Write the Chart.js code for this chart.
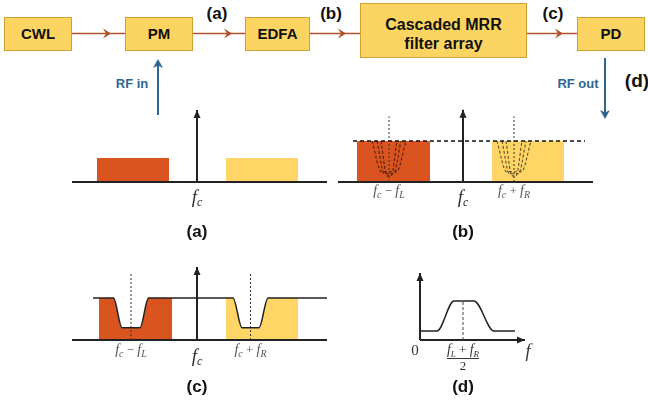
<!DOCTYPE html>
<html lang="en">
<head>
<meta charset="UTF-8">
<title>Cascaded MRR filter array - spectra</title>
<script src="https://cdn.jsdelivr.net/npm/chart.js"></script>
<style>
    * { margin: 0; padding: 0; box-sizing: border-box; }
    body { background: #fff; width: 648px; height: 407px; overflow: hidden; }
    .stage { position: relative; width: 648px; height: 407px; }
    .stage svg, .stage canvas { position: absolute; }
</style>
</head>
<body>
<div class="stage">
    <svg width="648" height="125" style="left:0;top:0">
        <g fill="#FCD462" stroke="#CFA032" stroke-width="1">
            <rect x="4.5" y="17.5" width="67" height="33"/>
            <rect x="125.5" y="17.5" width="67" height="33"/>
            <rect x="245.5" y="17.5" width="64" height="33"/>
            <rect x="360.5" y="3.5" width="166" height="54"/>
            <rect x="577.5" y="17.5" width="67" height="33"/>
        </g>
        <g font-family="'Liberation Sans', Arial, sans-serif" font-weight="bold" text-anchor="middle" fill="#111">
            <text x="38" y="39" font-size="15">CWL</text>
            <text x="159" y="39" font-size="15">PM</text>
            <text x="277.5" y="39" font-size="15">EDFA</text>
            <text x="443.5" y="30" font-size="16">Cascaded MRR</text>
            <text x="443.5" y="49" font-size="16">filter array</text>
            <text x="611" y="39" font-size="15">PD</text>
            <text x="217" y="19" font-size="17">(a)</text>
            <text x="331" y="19" font-size="17">(b)</text>
            <text x="553" y="19" font-size="17">(c)</text>
            <text x="637" y="87" font-size="19">(d)</text>
        </g>
        <g stroke="#B0532C" stroke-width="1.6">
            <line x1="72" y1="33.5" x2="125" y2="33.5"/>
            <line x1="193" y1="33.5" x2="245" y2="33.5"/>
            <line x1="310" y1="33.5" x2="360" y2="33.5"/>
            <line x1="527" y1="33.5" x2="577" y2="33.5"/>
        </g>
        <g fill="#B0532C">
            <path d="M103,28.5 L111,33.5 L103,38.5 L106,33.5 Z"/>
            <path d="M224,28.5 L232,33.5 L224,38.5 L227,33.5 Z"/>
            <path d="M338,28.5 L346,33.5 L338,38.5 L341,33.5 Z"/>
            <path d="M555,28.5 L563,33.5 L555,38.5 L558,33.5 Z"/>
        </g>
        <g stroke="#2F6690" stroke-width="2">
            <line x1="158" y1="115" x2="158" y2="63"/>
            <line x1="605" y1="58" x2="605" y2="114"/>
        </g>
        <g fill="#2F6690">
            <path d="M158,59 L153,68 L158,65.5 L163,68 Z"/>
            <path d="M605,119 L600,110 L605,112.5 L610,110 Z"/>
        </g>
        <g font-family="'Liberation Sans', Arial, sans-serif" font-weight="bold" font-size="13" fill="#2F6690" text-anchor="middle">
            <text x="132" y="88">RF in</text>
            <text x="578" y="88">RF out</text>
        </g>
    </svg>
    <canvas id="panel-a"></canvas>
    <canvas id="panel-b"></canvas>
    <canvas id="panel-c"></canvas>
    <canvas id="panel-d"></canvas>
</div>

<script>
    // Frequency axis of (a)-(c): offset from the carrier fc, arbitrary units.
    // Amplitude: 1 = level of the sidebands.

    // (a) after the phase modulator
    const aAxis = [-12.5, 13.0];
    const aLowerBand = [-10.0, -2.8];
    const aUpperBand = [2.9, 10.1];
    const aCarrier = 3.0;

    // (b) after the EDFA, with the tunable filter responses
    const bAxis = [-12.5, 13.0];
    const bLowerBand = [-10.6, -3.3];
    const bUpperBand = [2.9, 10.1];
    const bCarrier = 1.76;
    const bReference = [-11.0, 12.2];
    const bNotchCentres = [-7.4, 5.1];
    const bMarkerTop = 1.6;
    const bNotchOffsets = [
        [-1.7, -0.75, 0.75, 1.7],
        [-1.2, -0.45, 0.45, 1.2],
        [-0.8, -0.2, 0.2, 0.8]
    ];
    const bNotchLevels = [
        [1, 0.25, 0.25, 1],
        [1, 0.2, 0.2, 1],
        [1, 0.15, 0.15, 1]
    ];

    // (c) after the cascaded MRR filter array
    const cAxis = [-12.5, 13.0];
    const cCarrier = 1.74;
    const cResponseX = [-10.4, -8.35, -7.5, -5.7, -4.85, 3.6, 4.5, 6.2, 7.1, 13.0];
    const cResponseY = [1, 1, 0.29, 0.29, 1, 1, 0.29, 0.29, 1, 1];
    const cLowerBand = [-9.8, -2.5];
    const cUpperBand = [2.9, 10.1];
    const cNotchCentres = [-6.6, 5.35];
    const cMarkerTop = 1.62;

    // (d) RF response at the photodiode
    const dAxisX = 10.5;
    const dAxisY = 1.72;
    const dResponseX = [0, 1.7, 3.4, 5.4, 7.4, 9.5];
    const dResponseY = [0.23, 0.23, 1, 1, 0.23, 0.23];
    const dCentre = 4.3;

    // where each panel sits on the page (px) and how many px one unit is
    const geometry = {
        a: { left: 60, top: 100, width: 280, height: 150, x0: 197, y0: 182, sx: 10, sy: 24 },
        b: { left: 335, top: 100, width: 290, height: 150, x0: 463, y0: 182, sx: 10, sy: 41 },
        c: { left: 60, top: 255, width: 280, height: 150, x0: 197, y0: 340, sx: 10, sy: 42 },
        d: { left: 395, top: 255, width: 160, height: 150, x0: 420, y0: 340, sx: 10, sy: 39 }
    };

    const ink = '#222';
    const orange = '#D9541E';
    const yellow = '#FFD666';

    const pts = (xs, ys) => xs.map((x, i) => ({ x: x, y: ys[i] }));

    function line(data, color, width, extra) {
        return Object.assign({
            data: data, showLine: true, fill: false, pointRadius: 0,
            borderColor: color, borderWidth: width, order: 1
        }, extra || {});
    }

    function band(range, color) {
        return {
            data: [{ x: range[0], y: 1 }, { x: range[1], y: 1 }],
            showLine: true, fill: 'origin', pointRadius: 0,
            borderColor: 'transparent', borderWidth: 0, backgroundColor: color, order: 5
        };
    }

    // part of a curve that lies inside a band, for filling
    function clipCurve(xs, ys, range) {
        const out = [{ x: range[0], y: 1 }];
        xs.forEach((x, i) => { if (x > range[0] && x < range[1]) out.push({ x: x, y: ys[i] }); });
        out.push({ x: range[1], y: 1 });
        return out;
    }

    const serifIt = n => 'italic ' + n + 'px "Liberation Serif", "DejaVu Serif", serif';
    const serif = n => n + 'px "Liberation Serif", "DejaVu Serif", serif';

    function drawParts(ctx, cx, y, parts, color) {
        let w = 0;
        parts.forEach(p => { ctx.font = p[1]; w += ctx.measureText(p[0]).width; });
        let x = cx - w / 2;
        ctx.fillStyle = color;
        ctx.textAlign = 'left';
        ctx.textBaseline = 'alphabetic';
        parts.forEach(p => {
            ctx.font = p[1];
            ctx.fillText(p[0], x, y + (p[2] || 0));
            x += ctx.measureText(p[0]).width;
        });
        return w;
    }

    const fcLabel = [['f', serifIt(19)], ['c', serifIt(12), 3]];
    const minusLabel = [['f', serifIt(14)], ['c', serifIt(10), 3], [' \u2212 ', serif(13)], ['f', serifIt(14)], ['L', serifIt(10), 3]];
    const plusLabel = [['f', serifIt(14)], ['c', serifIt(10), 3], [' + ', serif(13)], ['f', serifIt(14)], ['R', serifIt(10), 3]];
    const sumLabel = [['f', serifIt(14)], ['L', serifIt(9), 3], [' + ', serif(13)], ['f', serifIt(14)], ['R', serifIt(9), 3]];

    function title(ctx, text, x, y) {
        ctx.font = 'bold 17px "Liberation Sans", Arial, sans-serif';
        ctx.fillStyle = '#111';
        ctx.textAlign = 'center';
        ctx.textBaseline = 'middle';
        ctx.fillText(text, x, y);
    }

    function arrowHead(ctx, x, y, dir) {
        ctx.save();
        ctx.translate(x, y);
        ctx.rotate(dir === 'up' ? 0 : Math.PI / 2);
        ctx.fillStyle = ink;
        ctx.beginPath();
        ctx.moveTo(0, 0);
        ctx.lineTo(-3.5, 8);
        ctx.lineTo(3.5, 8);
        ctx.closePath();
        ctx.fill();
        ctx.restore();
    }

    function makePanel(key, datasets, decorate) {
        const g = geometry[key];
        const canvas = document.getElementById('panel-' + key);
        canvas.width = g.width;
        canvas.height = g.height;
        canvas.style.left = g.left + 'px';
        canvas.style.top = g.top + 'px';
        return new Chart(canvas, {
            type: 'scatter',
            data: { datasets: datasets },
            options: {
                responsive: false,
                animation: false,
                events: [],
                layout: { padding: 0 },
                elements: { point: { radius: 0 } },
                plugins: { legend: { display: false }, tooltip: { enabled: false } },
                scales: {
                    x: { type: 'linear', display: false,
                         min: (g.left - g.x0) / g.sx, max: (g.left + g.width - g.x0) / g.sx },
                    y: { type: 'linear', display: false,
                         min: (g.y0 - g.top - g.height) / g.sy, max: (g.y0 - g.top) / g.sy }
                }
            },
            plugins: [{
                id: 'deco-' + key,
                afterDatasetsDraw: c => decorate(c.ctx, c.scales.x, c.scales.y)
            }]
        });
    }

    // (a)
    makePanel('a', [
        band(aLowerBand, orange),
        band(aUpperBand, yellow),
        line([{ x: aAxis[0], y: 0 }, { x: aAxis[1], y: 0 }], ink, 2),
        line([{ x: 0, y: 0 }, { x: 0, y: aCarrier }], ink, 2)
    ], (ctx, x, y) => {
        const px = x.getPixelForValue(0), py = y.getPixelForValue(0);
        arrowHead(ctx, px, y.getPixelForValue(aCarrier), 'up');
        drawParts(ctx, px, py + 21, fcLabel, '#333');
        title(ctx, '(a)', px, py + 50);
    });

    // (b)
    const bNotches = [];
    bNotchCentres.forEach((c, k) => {
        bNotchOffsets.forEach((offs, i) => {
            bNotches.push(line(pts(offs.map(o => c + o), bNotchLevels[i]),
                k === 0 ? 'rgba(70,25,8,0.9)' : 'rgba(80,65,30,0.9)', 1.1,
                { borderDash: [3, 2], cubicInterpolationMode: 'monotone', order: 2 }));
        });
    });
    makePanel('b', [
        band(bLowerBand, orange),
        band(bUpperBand, yellow),
        ...bNotches,
        line([{ x: bReference[0], y: 1 }, { x: bReference[1], y: 1 }], '#111', 1.3, { borderDash: [4, 3] }),
        line([{ x: bNotchCentres[0], y: 0 }, { x: bNotchCentres[0], y: bMarkerTop }], '#333', 1, { borderDash: [2, 2] }),
        line([{ x: bNotchCentres[1], y: 0 }, { x: bNotchCentres[1], y: bMarkerTop }], '#333', 1, { borderDash: [2, 2] }),
        line([{ x: bAxis[0], y: 0 }, { x: bAxis[1], y: 0 }], ink, 2),
        line([{ x: 0, y: 0 }, { x: 0, y: bCarrier }], ink, 2)
    ], (ctx, x, y) => {
        const px = x.getPixelForValue(0), py = y.getPixelForValue(0);
        arrowHead(ctx, px, y.getPixelForValue(bCarrier), 'up');
        drawParts(ctx, x.getPixelForValue(bNotchCentres[0]), py + 13, minusLabel, '#555');
        drawParts(ctx, x.getPixelForValue(bNotchCentres[1]), py + 13, plusLabel, '#555');
        drawParts(ctx, px, py + 21, fcLabel, '#333');
        title(ctx, '(b)', px, py + 50);
    });

    // (c)
    makePanel('c', [
        Object.assign(band(cLowerBand, orange), { data: clipCurve(cResponseX, cResponseY, cLowerBand), cubicInterpolationMode: 'monotone' }),
        Object.assign(band(cUpperBand, yellow), { data: clipCurve(cResponseX, cResponseY, cUpperBand), cubicInterpolationMode: 'monotone' }),
        line(pts(cResponseX, cResponseY), ink, 1.5, { cubicInterpolationMode: 'monotone' }),
        line([{ x: cNotchCentres[0], y: 0 }, { x: cNotchCentres[0], y: cMarkerTop }], '#333', 1, { borderDash: [2, 2] }),
        line([{ x: cNotchCentres[1], y: 0 }, { x: cNotchCentres[1], y: cMarkerTop }], '#333', 1, { borderDash: [2, 2] }),
        line([{ x: cAxis[0], y: 0 }, { x: cAxis[1], y: 0 }], ink, 2),
        line([{ x: 0, y: 0 }, { x: 0, y: cCarrier }], ink, 2)
    ], (ctx, x, y) => {
        const px = x.getPixelForValue(0), py = y.getPixelForValue(0);
        arrowHead(ctx, px, y.getPixelForValue(cCarrier), 'up');
        drawParts(ctx, x.getPixelForValue(cNotchCentres[0]), py + 14, minusLabel, '#555');
        drawParts(ctx, x.getPixelForValue(cNotchCentres[1]), py + 14, plusLabel, '#555');
        drawParts(ctx, px, py + 22, fcLabel, '#333');
        title(ctx, '(c)', px, py + 47);
    });

    // (d)
    makePanel('d', [
        line(pts(dResponseX, dResponseY), ink, 1.5, { cubicInterpolationMode: 'monotone' }),
        line([{ x: dCentre, y: 0 }, { x: dCentre, y: 1 }], '#444', 1, { borderDash: [3, 2] }),
        line([{ x: 0, y: 0 }, { x: dAxisX, y: 0 }], ink, 2),
        line([{ x: 0, y: 0 }, { x: 0, y: dAxisY }], ink, 2)
    ], (ctx, x, y) => {
        const ox = x.getPixelForValue(0), oy = y.getPixelForValue(0);
        arrowHead(ctx, ox, y.getPixelForValue(dAxisY), 'up');
        arrowHead(ctx, x.getPixelForValue(dAxisX), oy, 'right');
        const cx = x.getPixelForValue(dCentre);
        drawParts(ctx, ox - 5, oy + 15, [['0', serif(15)]], '#333');
        const w = drawParts(ctx, cx, oy + 14, sumLabel, '#333');
        ctx.strokeStyle = '#333';
        ctx.lineWidth = 1;
        ctx.beginPath();
        ctx.moveTo(cx - w / 2, oy + 18.5);
        ctx.lineTo(cx + w / 2, oy + 18.5);
        ctx.stroke();
        drawParts(ctx, cx, oy + 30, [['2', serif(13)]], '#333');
        drawParts(ctx, x.getPixelForValue(dAxisX) + 3, oy + 17, [['f', serifIt(18)]], '#333');
        title(ctx, '(d)', cx, oy + 47);
    });
</script>
</body>
</html>
